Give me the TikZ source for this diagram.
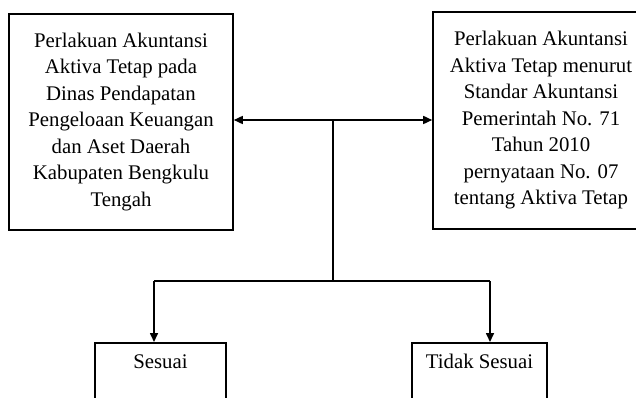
\documentclass[tikz,border=0pt]{standalone}
\usepackage{fontspec}
\setmainfont{Liberation Serif}
\usetikzlibrary{arrows.meta}
\begin{document}
\begin{tikzpicture}[x=1pt,y=-1pt,
  box/.style={draw, line width=1.6pt, inner sep=0pt},
  txt/.style={font=\fontsize{20.8}{26.5}\selectfont, align=center},
  conn/.style={line width=1.6pt},
  tip/.style={-{Triangle[length=9pt,width=8pt]}},
  both/.style={{Triangle[length=9pt,width=8pt]}-{Triangle[length=9pt,width=8pt]}}]
\useasboundingbox (0,0) rectangle (636,398);
\clip (0,0) rectangle (636,398);
\node[box, txt, minimum width=224pt, minimum height=216pt] (left) at (121,122)
  {Perlakuan Akuntansi\\Aktiva Tetap pada\\Dinas Pendapatan\\Pengeloaan Keuangan\\dan Aset Daerah\\Kabupaten Bengkulu\\Tengah};
\node[box, txt, minimum width=216pt, minimum height=217pt] (right) at (541,120.5)
  {Perlakuan Akuntansi\\Aktiva Tetap menurut\\Standar Akuntansi\\Pemerintah No. 71\\Tahun 2010\\pernyataan No. 07\\tentang Aktiva Tetap};
\node[box, minimum width=131pt, minimum height=80pt, anchor=north] (ses) at (160.5,342) {};
\node[txt, anchor=base] (sestxt) at (160.5,368) {Sesuai};
\node[box, minimum width=135pt, minimum height=80pt, anchor=north] (tdk) at (479.5,342) {};
\node[txt, anchor=base] (tdktxt) at (479.5,368) {Tidak Sesuai};
\coordinate (j) at (333,120);
\coordinate (b) at (333,281);
\coordinate (bl) at (154,281);
\coordinate (br) at (490,281);
\draw[conn, both] (j -| left.east) -- (j -| right.west);
\draw[conn] (j) -- (b);
\draw[conn] (bl) -- (br);
\draw[conn, tip] (bl) -- (bl |- ses.north);
\draw[conn, tip] (br) -- (br |- tdk.north);
\end{tikzpicture}
\end{document}
